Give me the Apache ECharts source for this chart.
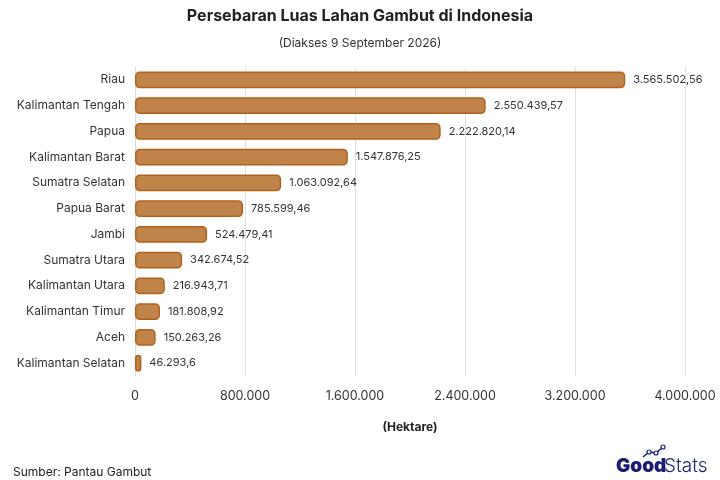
<!DOCTYPE html>
<html><head><meta charset="utf-8">
<script src="https://cdn.jsdelivr.net/npm/echarts@6/dist/echarts.min.js"></script>
<style>html,body{margin:0;padding:0;background:#fff}#c{width:720px;height:480px}</style>
</head><body><div id="c"></div>
<script>
const categories = ["Riau","Kalimantan Tengah","Papua","Kalimantan Barat","Sumatra Selatan","Papua Barat","Jambi","Sumatra Utara","Kalimantan Utara","Kalimantan Timur","Aceh","Kalimantan Selatan"];
const values = [3565502.56,2550439.57,2222820.14,1547876.25,1063092.64,785599.46,524479.41,342674.52,216943.71,181808.92,150263.26,46293.6];
const tickLabels = ["0","800.000","1.600.000","2.400.000","3.200.000","4.000.000"];

function fmt(v){
  const parts = String(v).split(".");
  const intPart = parts[0].replace(/\B(?=(\d{3})+(?!\d))/g, ".");
  return parts[1] ? intPart + "," + parts[1] : intPart;
}
const font = "Inter, 'Noto Sans', sans-serif";
const navy = '#1b1d72';
const chart = echarts.init(document.getElementById('c'));
chart.setOption({
  backgroundColor:'#fff',
  animation:false,
  title:[
    {text:'Persebaran Luas Lahan Gambut di Indonesia', left:'center', top:3,
     textStyle:{fontFamily:font,fontSize:16,fontWeight:'bold',color:'#222'}},
    {text:'(Diakses 9 September 2026)', left:'center', top:32,
     textStyle:{fontFamily:font,fontSize:12,fontWeight:'normal',color:'#333'}},
    {text:'Sumber: Pantau Gambut', left:8, top:461,
     textStyle:{fontFamily:font,fontSize:12,fontWeight:'normal',color:'#222'}}
  ],
  graphic:[
    {type:'text', left:616, top:457, style:{text:'Good', font:"900 19px "+font, fill:navy}},
    {type:'text', left:664, top:457, style:{text:'Stats', font:"300 19px "+font, fill:navy}},
    {type:'polyline', shape:{points:[[643,457],[649,452],[656,453],[663,447]]}, style:{stroke:navy, lineWidth:1.5, fill:null}},
    {type:'circle', shape:{cx:649,cy:452,r:2}, style:{stroke:navy, lineWidth:1.2, fill:'#fff'}},
    {type:'circle', shape:{cx:656,cy:453,r:2}, style:{stroke:navy, lineWidth:1.2, fill:'#fff'}},
    {type:'circle', shape:{cx:663,cy:447,r:2}, style:{stroke:navy, lineWidth:1.2, fill:'#fff'}}
  ],
  grid:{left:135, right:35, top:67, bottom:104, containLabel:false},
  xAxis:{type:'value', min:0, max:4000000, interval:800000,
    name:'(Hektare)', nameLocation:'middle', nameGap:45,
    nameTextStyle:{fontFamily:font,fontSize:12,fontWeight:'bold',color:'#222'},
    axisLine:{show:false}, axisTick:{show:false},
    splitLine:{lineStyle:{color:'#e0e0e0'}},
    axisLabel:{fontFamily:font,fontSize:12.5,color:'#333',margin:14,
      formatter:(v)=>tickLabels[Math.round(v/800000)]}},
  yAxis:{type:'category', data:categories, inverse:true,
    axisLine:{show:true,lineStyle:{color:'#ddd'}}, axisTick:{show:false},
    axisLabel:{fontFamily:font,fontSize:12,color:'#333',margin:10}},
  series:[{type:'bar', data:values, barWidth:'66%',
    itemStyle:{color:'#c0844a', borderColor:'#b0621c', borderWidth:1.5, borderRadius:4},
    label:{show:true, position:'right', distance:8, fontFamily:font, fontSize:11, color:'#333',
      formatter:(p)=>fmt(p.value)}}]
});
</script></body></html>
